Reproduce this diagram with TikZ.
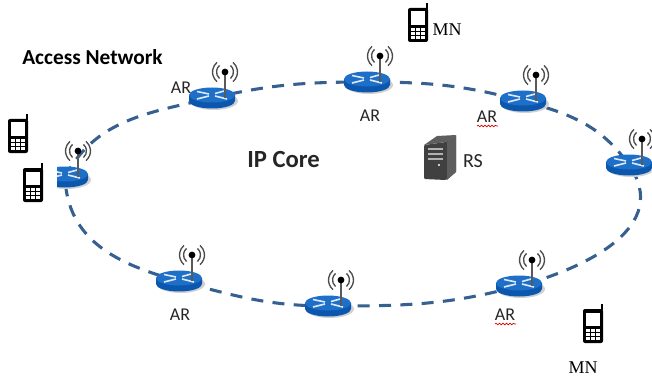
\documentclass[tikz,border=0pt]{standalone}
\usepackage{fontspec}
\setmainfont{Carlito}
\newfontfamily\serifmn{Liberation Serif}
\usetikzlibrary{decorations.pathmorphing}

\definecolor{ringblue}{HTML}{35608F}
\definecolor{routertop}{HTML}{1E6FC8}
\definecolor{routerside}{HTML}{0C57AE}
\definecolor{towerdark}{HTML}{404040}
\definecolor{towerside}{HTML}{5E5E5E}

\tikzset{
    ring/.style={draw=ringblue, line width=2.3pt, dash pattern=on 9pt off 7pt},
    label/.style={font=\fontsize{13.5pt}{15pt}\selectfont, text=black!85, inner sep=0pt},
    rslabel/.style={font=\fontsize{15pt}{17pt}\selectfont, text=black!85, inner sep=0pt},
    title/.style={font=\bfseries\fontsize{16pt}{18pt}\selectfont, inner sep=0pt},
    bigtitle/.style={font=\bfseries\fontsize{18.5pt}{20pt}\selectfont, text=black!85, inner sep=0pt},
    mnlabel/.style={font=\serifmn\fontsize{13.5pt}{15pt}\selectfont, inner sep=0pt},
    squiggle/.style={draw=red!85!black, line width=0.5pt, decorate,
        decoration={snake, amplitude=0.6pt, segment length=2.6pt}},
    router/.pic={
        \fill[black!18] (2,3) ellipse (24 and 9);
        \fill[routerside] (-23,-3) -- (-23,3) arc (180:0:23 and 7.5) -- (23,-3) -- cycle;
        \fill[routertop] (0,-3) ellipse (23 and 7.5);
        \draw[white!85!routertop, line width=1.2pt] (-15,-6.5) -- (-3,-4) (15,1) -- (3,-2)
            (-15,1) -- (-3,-2) (14,-7.5) -- (3,-4.5);
        \draw[black!65, line width=1pt] (13,0) -- (13,-26);
        \fill[black] (13,-26) circle (3.4);
        \foreach \r in {8.5,12.5}{
            \draw[black!70, line width=1pt] (13,-26) ++(50:\r) arc (50:-50:\r);
            \draw[black!70, line width=1pt] (13,-26) ++(130:\r) arc (130:230:\r);
        }
    },
    phone/.pic={
        \fill[black] (8.3,-15) rectangle (10,-21);
        \fill[black, rounded corners=1.5] (-10,-16) rectangle (10,18);
        \fill[white] (-7,-12.5) rectangle (7,1);
        \foreach \i in {-1,0,1}
            \foreach \j in {0,1,2}
                \fill[white] (\i*5-1.6,4+\j*4.2) rectangle (\i*5+1.6,6.8+\j*4.2);
    },
    tower/.pic={
        \fill[towerdark, rounded corners=0.8] (-16,-13) -- (6,-16) -- (16,-23) -- (16,14)
            -- (6,22) -- (-16,21) -- cycle;
        \fill[towerside] (-16,-13) -- (-3,-22) -- (16,-23) -- (6,-16) -- cycle;
        \fill[towerside] (7,-16) -- (16,-23) -- (16,14) -- (7,22) -- cycle;
        \foreach \y in {-10,-5,0}
            \fill[black!30] (-12,\y) rectangle (3,\y+2.2);
        \fill[white] (-1,7) circle (1.1);
    },
}

\begin{document}
\begin{tikzpicture}[x=0.75pt, y=-0.75pt]
    \useasboundingbox (0,0) rectangle (652,381);

    \coordinate (r1) at (65,177);
    \coordinate (r2) at (212,98);
    \coordinate (r3) at (367,82);
    \coordinate (r4) at (523,101);
    \coordinate (r5) at (629,165);
    \coordinate (r6) at (519,286);
    \coordinate (r7) at (328,306);
    \coordinate (r8) at (179,281);

    % ring between the routers
    \draw[ring] (r1) to[out=62,  in=193] (r2)
                     to[out=13,  in=180] (r3)
                     to[out=0,   in=165] (r4)
                     to[out=-15, in=125] (r5)
                     to[out=-55, in=15, looseness=1.15] (r6)
                     to[out=195, in=0]   (r7)
                     to[out=180, in=-15] (r8)
                     to[out=165, in=-88, looseness=1.05] (r1);

    \foreach \name in {r1,r2,r3,r4,r5,r6,r7,r8}
        \pic at (\name) {router};

    % white patch of the phone over the left router
    \fill[white] (20,158) rectangle (57,206);

    \pic at (18,135) {phone};
    \pic at (33,184) {phone};
    \pic at (418,24) {phone};
    \pic at (593,325) {phone};
    \pic at (440,158) {tower};

    \node[title] (access) at (92.5,57) {Access Network};
    \node[bigtitle] (core) at (283.5,160) {IP Core};
    \node[label] (ar2) at (181,88) {AR};
    \node[label] (ar3) at (370,116) {AR};
    \node[label] (ar4) at (487,117) {AR};
    \node[label] (ar8) at (180,315) {AR};
    \node[label] (ar6) at (505,315) {AR};
    \node[rslabel] (rs) at (473,161) {RS};
    \node[mnlabel] (mna) at (447,30) {MN};
    \node[mnlabel] (mnb) at (583,368) {MN};

    \draw[squiggle] (477,126) -- (498,126);
    \draw[squiggle] (495,324) -- (516,324);
\end{tikzpicture}
\end{document}
